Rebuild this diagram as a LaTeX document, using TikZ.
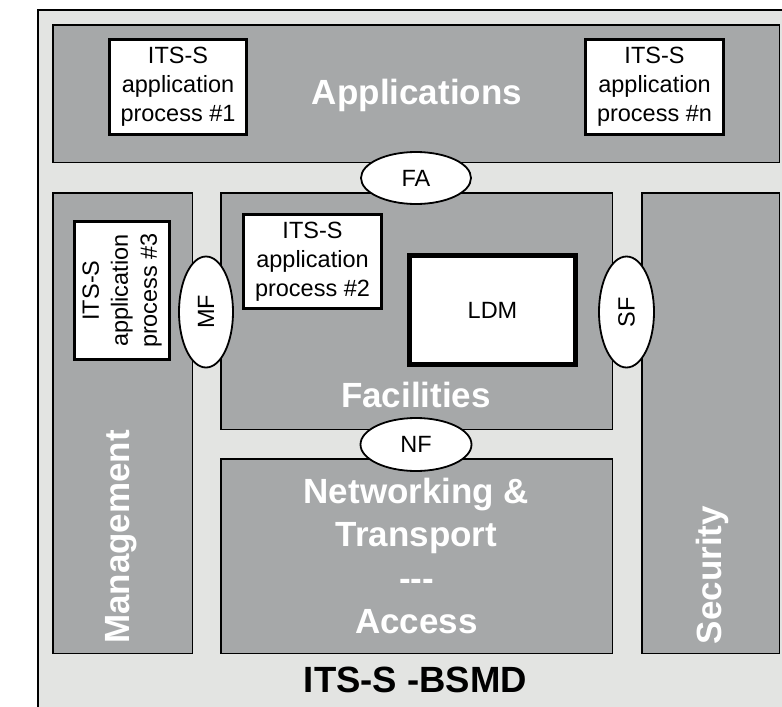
\documentclass[tikz,border=0pt]{standalone}
\usepackage{fontspec}
\setmainfont{Liberation Sans}
\usetikzlibrary{shapes.geometric}
\definecolor{bggray}{RGB}{227,228,226}
\definecolor{layergray}{RGB}{166,168,169}
\begin{document}
\begin{tikzpicture}[x=1pt,y=-1pt,
		layer/.style={draw=black,line width=1.5pt,fill=layergray,inner sep=0pt},
		procbox/.style={draw=black,line width=3pt,fill=white,inner sep=0pt,align=center,font=\fontsize{23.5}{29}\selectfont},
		sap/.style={ellipse,draw=black,line width=1.8pt,fill=white,inner sep=0pt,font=\fontsize{23.5}{29}\selectfont},
		title/.style={text=white,inner sep=0pt,align=center,font=\fontsize{35}{43.3}\selectfont\bfseries}]
			\useasboundingbox[fill=white] (0,0) rectangle (782,707);
			\clip (0,0) rectangle (782,707);
			\draw[fill=bggray,line width=1.5pt] (38,10) rectangle (830,750);
			\node[layer,minimum width=726.5,minimum height=137.5] (app) at (416,93.5) {};
			\node[layer,minimum width=139.5,minimum height=460.5] (mgmt) at (122.5,423) {};
			\node[layer,minimum width=391.5,minimum height=236.5] (fac) at (416.5,311) {};
			\node[layer,minimum width=137.5,minimum height=460.5] (sec) at (710.5,423) {};
			\node[layer,minimum width=391.5,minimum height=194.5] (net) at (416.5,556) {};
			\node[procbox,minimum width=137,minimum height=95] (proc1) at (178,87) {ITS-S\\application\\process \#1};
			\node[procbox,minimum width=138,minimum height=95] (procn) at (654.5,87) {ITS-S\\application\\process \#n};
			\node[procbox,minimum width=138,minimum height=94] (proc2) at (312.5,261.5) {ITS-S\\application\\process \#2};
			\node[procbox,rotate=90,minimum width=138,minimum height=95] (proc3) at (122,290.5) {ITS-S\\application\\process \#3};
			\node[procbox,line width=5pt,minimum width=166,minimum height=109] (ldm) at (492.5,310) {LDM};
			\node[sap,minimum width=110,minimum height=52] (fa) at (416,178) {FA};
			\node[sap,minimum width=111,minimum height=53] (nf) at (416,444.5) {NF};
			\node[sap,rotate=90,minimum width=111,minimum height=54] (mf) at (206,312) {MF};
			\node[sap,rotate=90,minimum width=111,minimum height=55] (sf) at (626.5,312) {SF};
			\node[title,anchor=base] (applbl) at (417,104) {Applications};
			\node[title,anchor=base] (faclbl) at (416,407) {Facilities};
			\node[title] (netlbl) at (416.5,556) {Networking \&\\Transport\\-{}-{}-\\Access};
			\node[title,rotate=90] (mgmtlbl) at (121,537) {Management};
			\node[title,rotate=90] (seclbl) at (712,575) {Security};
			\node[anchor=base,inner sep=0pt,font=\fontsize{36.5}{44}\selectfont\bfseries] (bsmd) at (415.5,692) {ITS-S -BSMD};
		\end{tikzpicture}
\end{document}
